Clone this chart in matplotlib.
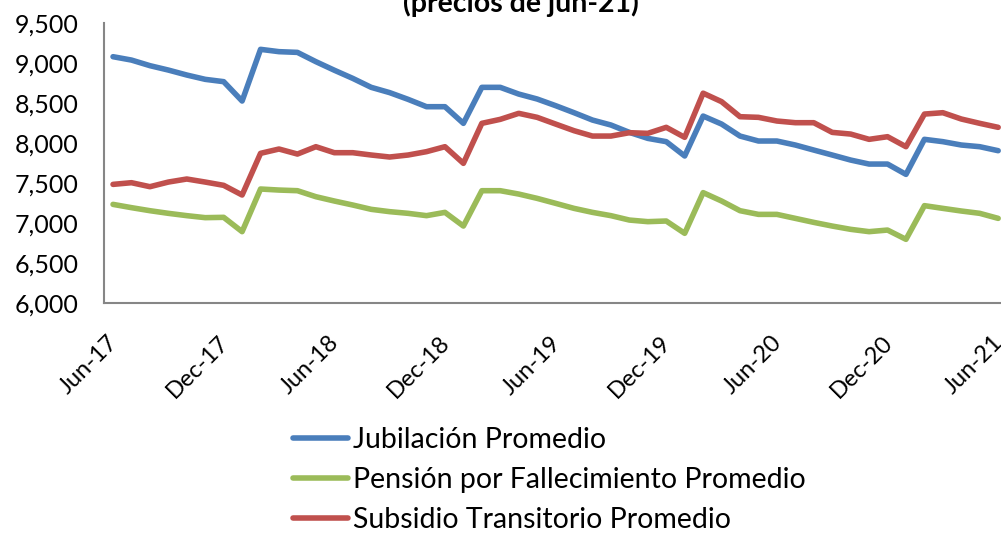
import numpy as np
import matplotlib.pyplot as plt
import matplotlib.transforms as mtransforms

# monthly data Jun-17 .. Jun-21 (precios de jun-21)
meses = ['Jun-17', 'Jul-17', 'Aug-17', 'Sep-17', 'Oct-17', 'Nov-17', 'Dec-17',
         'Jan-18', 'Feb-18', 'Mar-18', 'Apr-18', 'May-18', 'Jun-18',
         'Jul-18', 'Aug-18', 'Sep-18', 'Oct-18', 'Nov-18', 'Dec-18',
         'Jan-19', 'Feb-19', 'Mar-19', 'Apr-19', 'May-19', 'Jun-19',
         'Jul-19', 'Aug-19', 'Sep-19', 'Oct-19', 'Nov-19', 'Dec-19',
         'Jan-20', 'Feb-20', 'Mar-20', 'Apr-20', 'May-20', 'Jun-20',
         'Jul-20', 'Aug-20', 'Sep-20', 'Oct-20', 'Nov-20', 'Dec-20',
         'Jan-21', 'Feb-21', 'Mar-21', 'Apr-21', 'May-21', 'Jun-21']

jubilacion = [9079, 9037, 8967, 8912, 8850, 8796, 8767, 8525, 9171, 9142,
              9133, 9017, 8910, 8808, 8696, 8630, 8546, 8454, 8454, 8246,
              8696, 8696, 8612, 8550, 8467, 8379, 8287, 8225, 8133, 8058,
              8017, 7838, 8337, 8237, 8087, 8025, 8025, 7975, 7912, 7850,
              7787, 7737, 7737, 7608, 8046, 8017, 7975, 7954, 7904]

fallecimiento = [7233, 7192, 7154, 7121, 7092, 7067, 7071, 6892, 7425, 7412,
                 7404, 7329, 7275, 7225, 7171, 7142, 7121, 7092, 7133, 6962,
                 7404, 7404, 7362, 7308, 7246, 7183, 7133, 7092, 7037, 7017,
                 7025, 6871, 7380, 7275, 7154, 7108, 7108, 7058, 7008, 6962,
                 6921, 6892, 6912, 6796, 7217, 7183, 7150, 7121, 7058]

subsidio = [7483, 7504, 7454, 7512, 7550, 7512, 7471, 7350, 7871, 7925,
            7862, 7954, 7879, 7879, 7850, 7825, 7850, 7892, 7954, 7746,
            8246, 8296, 8371, 8321, 8237, 8154, 8087, 8087, 8129, 8121,
            8196, 8071, 8623, 8517, 8329, 8321, 8275, 8254, 8254, 8133,
            8112, 8046, 8079, 7954, 8362, 8379, 8300, 8246, 8196]

plt.rcParams['font.family'] = ['Lato', 'DejaVu Sans']

fig = plt.figure(figsize=(10.01, 5.33), dpi=100)
ax = fig.add_axes([0.1037, 0.4315, 0.9027, 0.5253])

x = np.arange(len(meses))
ax.plot(x, jubilacion, color='#4A7EBB', lw=4, solid_capstyle='round', label='Jubilación Promedio')
ax.plot(x, fallecimiento, color='#9BBB59', lw=4, solid_capstyle='round', label='Pensión por Fallecimiento Promedio')
ax.plot(x, subsidio, color='#C0504D', lw=4, solid_capstyle='round', label='Subsidio Transitorio Promedio')

ax.set_xlim(-0.5, 48.5)
ax.set_ylim(6000, 9500)
ax.set_yticks(np.arange(6000, 9501, 500))
ax.set_yticklabels([f'{v:,}' for v in range(6000, 9501, 500)], fontsize=18)
ax.set_xticks(x[::6])
ax.set_xticklabels(meses[::6], fontsize=17, rotation=45, ha='right', rotation_mode='anchor')
ax.tick_params(length=0)
ax.tick_params(axis='y', pad=18)
ax.tick_params(axis='x', pad=21)

# nudge the rotated labels a few pixels left so Jun-21 stays inside
shift = mtransforms.ScaledTranslation(-6 / 100, 0, fig.dpi_scale_trans)
for lbl in ax.get_xticklabels():
    lbl.set_transform(lbl.get_transform() + shift)

for s in ['top', 'right']:
    ax.spines[s].set_visible(False)
for s in ['left', 'bottom']:
    ax.spines[s].set_color('#868686')
    ax.spines[s].set_linewidth(1.5)

fig.text(0.52, 0.9775, '(precios de jun-21)', fontsize=20.5, fontweight='bold',
         ha='center', va='baseline')

fig.legend(loc='upper left', bbox_to_anchor=(0.293, 0.199), frameon=False,
           fontsize=20.5, handlelength=1.93, handletextpad=0.18, labelspacing=0.5,
           borderaxespad=0, borderpad=0)

plt.savefig('out.png', dpi=100)
